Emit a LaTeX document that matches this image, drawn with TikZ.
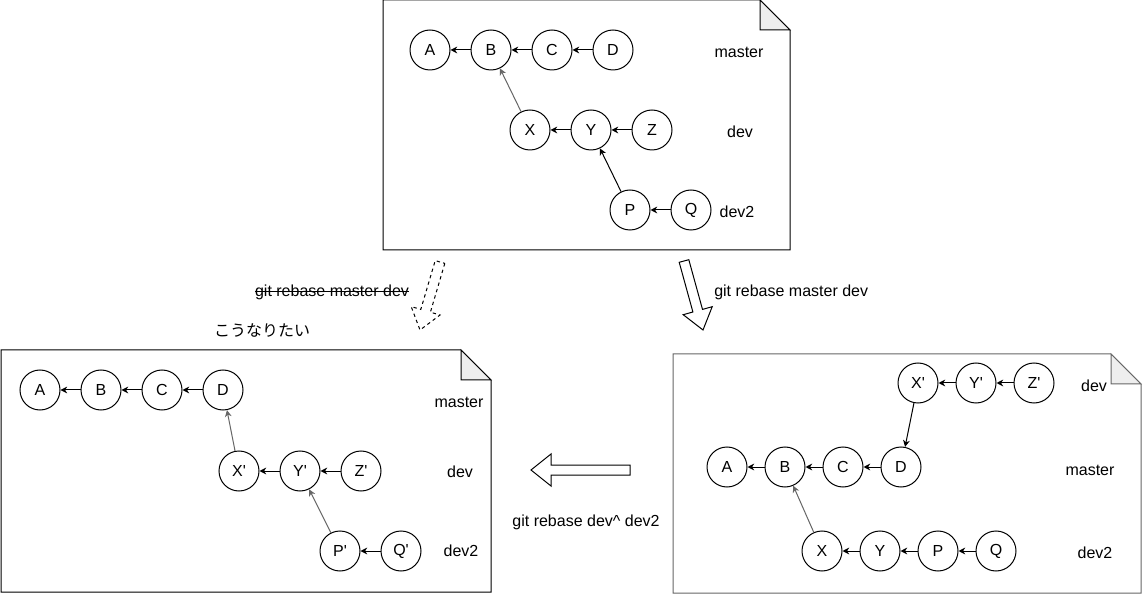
\documentclass[tikz,border=0pt]{standalone}
\usepackage{fontspec}
\setmainfont{Liberation Sans}[Ligatures=TeXOff]
\newfontfamily\jpfont{Noto Sans CJK JP}
\usetikzlibrary{arrows.meta,positioning}
\definecolor{linegray}{HTML}{666666}
\definecolor{foldgray}{HTML}{EEEEEE}

% paper sheet with a folded corner: x1, y1, x2, y2, border colour
\newcommand{\notepaper}[5]{%
  \draw[#5,line width=0.75pt,fill=white] (#1,#2) -- (#3-30,#2) -- (#3,#2+30) -- (#3,#4) -- (#1,#4) -- cycle;
  \draw[#5,line width=0.75pt,fill=foldgray] (#3-30,#2) -- (#3-30,#2+30) -- (#3,#2+30) -- cycle;}

\tikzset{
  commit/.style={draw,circle,minimum size=30pt,inner sep=0pt,line width=0.75pt,
    font=\fontsize{12}{14}\selectfont},
  branch/.style={inner sep=0pt,font=\fontsize{12}{14}\selectfont},
  cmd/.style={inner sep=0pt,font=\fontsize{12}{14}\selectfont},
  parent/.style={-{Stealth[length=5pt,width=5pt,inset=1.5pt]},line width=0.75pt},
  oldparent/.style={parent,draw=linegray},
  blockarrow/.style={line width=0.75pt,fill=white}
}

\begin{document}
\begin{tikzpicture}[x=0.75pt,y=-0.75pt]
  \useasboundingbox (0,0) rectangle (1143,595);

  % before
  \notepaper{383}{0}{790}{250}{black}
  \node[commit] (a1) at (430,50) {A};
  \node[commit,right=15pt of a1] (b1) {B};
  \node[commit,right=15pt of b1] (c1) {C};
  \node[commit,right=15pt of c1] (d1) {D};
  \node[commit] (x1) at (530,130) {X};
  \node[commit,right=15pt of x1] (y1) {Y};
  \node[commit,right=15pt of y1] (z1) {Z};
  \node[commit] (p1) at (630,210) {P};
  \node[commit,right=15pt of p1] (q1) {Q};
  \node[branch] (m1) at (739,52) {master};
  \node[branch] (v1) at (740,132) {dev};
  \node[branch] (w1) at (737,212) {dev2};
  \draw[parent] (b1) -- (a1);
  \draw[parent] (c1) -- (b1);
  \draw[parent] (d1) -- (c1);
  \draw[oldparent] (x1) -- (b1);
  \draw[parent] (y1) -- (x1);
  \draw[parent] (z1) -- (y1);
  \draw[parent] (p1) -- (y1);
  \draw[parent] (q1) -- (p1);

  % wanted
  \notepaper{1}{350}{491}{592}{black}
  \node[commit] (a2) at (40,390) {A};
  \node[commit,right=15pt of a2] (b2) {B};
  \node[commit,right=15pt of b2] (c2) {C};
  \node[commit,right=15pt of c2] (d2) {D};
  \node[commit] (x2) at (239,471) {X'};
  \node[commit,right=15pt of x2] (y2) {Y'};
  \node[commit,right=15pt of y2] (z2) {Z'};
  \node[commit] (p2) at (340,551) {P'};
  \node[commit,right=15pt of p2] (q2) {Q'};
  \node[branch] (m2) at (459,402) {master};
  \node[branch] (v2) at (460,472) {dev};
  \node[branch] (w2) at (461,551) {dev2};
  \draw[parent] (b2) -- (a2);
  \draw[parent] (c2) -- (b2);
  \draw[parent] (d2) -- (c2);
  \draw[oldparent] (x2) -- (d2);
  \draw[parent] (y2) -- (x2);
  \draw[parent] (z2) -- (y2);
  \draw[oldparent] (p2) -- (y2);
  \draw[parent] (q2) -- (p2);

  % after rebase
  \notepaper{673}{354}{1141}{593}{linegray}
  \node[commit] (x3) at (918,383) {X'};
  \node[commit,right=12.75pt of x3] (y3) {Y'};
  \node[commit,right=12.75pt of y3] (z3) {Z'};
  \node[commit] (a3) at (727,467) {A};
  \node[commit,right=12.75pt of a3] (b3) {B};
  \node[commit,right=12.75pt of b3] (c3) {C};
  \node[commit,right=12.75pt of c3] (d3) {D};
  \node[commit] (x4) at (822,551) {X};
  \node[commit,right=12.75pt of x4] (y4) {Y};
  \node[commit,right=12.75pt of y4] (p4) {P};
  \node[commit,right=12.75pt of p4] (q4) {Q};
  \node[branch] (v3) at (1094,386) {dev};
  \node[branch] (m3) at (1090,470) {master};
  \node[branch] (w3) at (1095,553) {dev2};
  \draw[parent] (y3) -- (x3);
  \draw[parent] (z3) -- (y3);
  \draw[parent] (x3) -- (d3);
  \draw[parent] (b3) -- (a3);
  \draw[parent] (c3) -- (b3);
  \draw[parent] (d3) -- (c3);
  \draw[oldparent] (x4) -- (b3);
  \draw[parent] (y4) -- (x4);
  \draw[parent] (p4) -- (y4);
  \draw[parent] (q4) -- (p4);

  % block arrows and commands
  \draw[blockarrow,dash pattern=on 2.5pt off 2.5pt] (444.8,263.4) -- (430.4,312.2) -- (440.0,315.0) -- (420,330)
    -- (411.2,306.6) -- (420.8,309.4) -- (435.2,260.6) -- cycle;
  \node[cmd] (cmd1) at (332,292) {git rebase master dev};
  \draw[line width=0.75pt] ([yshift=3.4pt]cmd1.base west) -- ([yshift=3.4pt]cmd1.base east);
  \node[cmd] (want) at (262,330) {\jpfont こうなりたい};
  \draw[blockarrow] (679.2,262.3) -- (692.9,312.0) -- (683.2,314.7) -- (703,330)
    -- (712.2,306.7) -- (702.5,309.4) -- (688.8,259.7) -- cycle;
  \node[cmd,anchor=west] (cmd2) at (714,292) {git rebase master dev};
  \draw[blockarrow] (630,465) -- (551,465) -- (551,454) -- (531,470) -- (551,486)
    -- (551,475) -- (630,475) -- cycle;
  \node[cmd] (cmd3) at (586,522) {git rebase dev\textasciicircum{} dev2};
\end{tikzpicture}
\end{document}
